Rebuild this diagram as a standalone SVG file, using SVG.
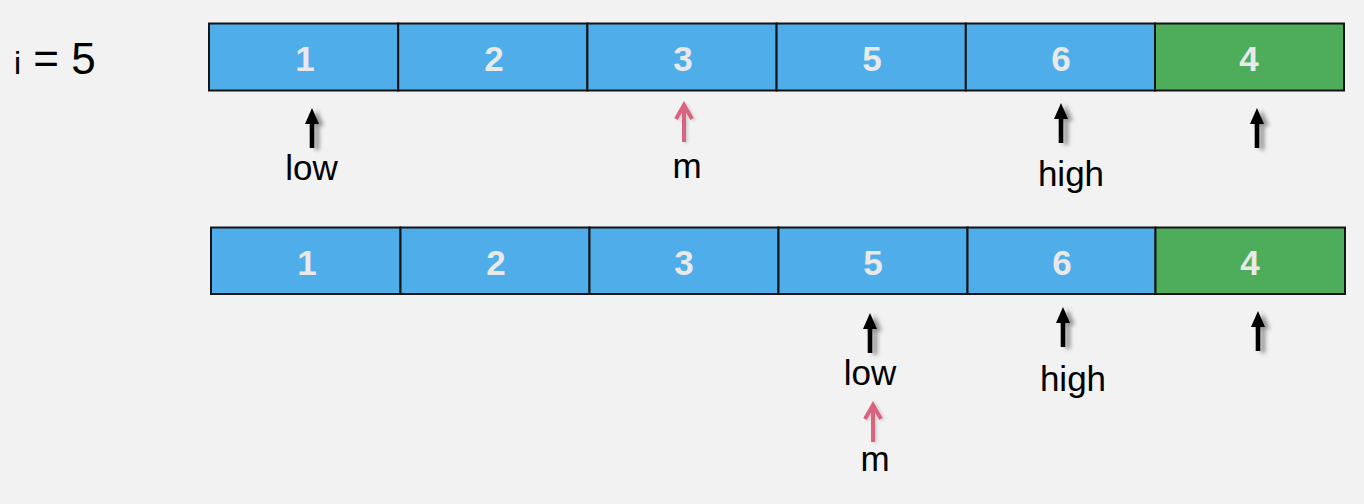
<svg xmlns="http://www.w3.org/2000/svg" width="1364" height="504" viewBox="0 0 1364 504">
  <defs>
    <style>
      .cell { stroke: #151515; stroke-width: 2; }
      .blue { fill: #4FADEA; }
      .green { fill: #4EAD5B; }
      .num { font-family: "Liberation Sans", Arial, sans-serif; font-weight: bold; font-size: 35px; fill: #E9E9E9; text-anchor: middle; }
      .lbl { font-family: "Liberation Sans", Arial, sans-serif; font-size: 35px; fill: #000; text-anchor: middle; }
      .pink { fill: none; stroke: #D9647F; stroke-width: 4; stroke-linecap: butt; stroke-linejoin: miter; }
    </style>
    <filter id="shadow" x="-100%" y="-30%" width="300%" height="160%">
      <feGaussianBlur in="SourceAlpha" stdDeviation="2"/>
      <feOffset dx="5" dy="2" result="b"/>
      <feFlood flood-color="#000" flood-opacity="0.4"/>
      <feComposite in2="b" operator="in" result="s"/>
      <feMerge><feMergeNode in="s"/><feMergeNode in="SourceGraphic"/></feMerge>
    </filter>
    <filter id="shadowLight" x="-100%" y="-30%" width="300%" height="160%">
      <feGaussianBlur in="SourceAlpha" stdDeviation="1.5"/>
      <feOffset dx="2" dy="1" result="b"/>
      <feFlood flood-color="#000" flood-opacity="0.15"/>
      <feComposite in2="b" operator="in" result="s"/>
      <feMerge><feMergeNode in="s"/><feMergeNode in="SourceGraphic"/></feMerge>
    </filter>
    <path id="blackArrow" d="M0,0 L7,16 L2.3,16 L2.3,40 L-2.3,40 L-2.3,16 L-7,16 Z" fill="#000"/>
    <path id="pinkArrow" class="pink" d="M0,39 L0,3 M-8,16 L0,2 L8,16"/>
  </defs>

  <rect x="0" y="0" width="1364" height="504" fill="#F2F2F2"/>

  <text x="14" y="74" font-family="'Liberation Sans', Arial, sans-serif" fill="#000"><tspan font-size="32">i</tspan><tspan font-size="44"> = 5</tspan></text>

  <!-- Top row -->
  <g id="row1">
    <g id="r1c1"><rect class="cell blue" x="209" y="23.5" width="189.2" height="67"/><text class="num" x="305" y="70.5">1</text></g>
    <g id="r1c2"><rect class="cell blue" x="398.2" y="23.5" width="189.2" height="67"/><text class="num" x="494" y="70.5">2</text></g>
    <g id="r1c3"><rect class="cell blue" x="587.4" y="23.5" width="189.2" height="67"/><text class="num" x="683" y="70.5">3</text></g>
    <g id="r1c4"><rect class="cell blue" x="776.6" y="23.5" width="189.2" height="67"/><text class="num" x="872" y="70.5">5</text></g>
    <g id="r1c5"><rect class="cell blue" x="965.8" y="23.5" width="189.2" height="67"/><text class="num" x="1061" y="70.5">6</text></g>
    <g id="r1c6"><rect class="cell green" x="1155" y="23.5" width="189" height="67"/><text class="num" x="1249" y="70.5">4</text></g>
  </g>

  <!-- Bottom row -->
  <g id="row2">
    <g id="r2c1"><rect class="cell blue" x="211" y="227.5" width="189.5" height="66.5"/><text class="num" x="307" y="274.5">1</text></g>
    <g id="r2c2"><rect class="cell blue" x="400.5" y="227.5" width="189" height="66.5"/><text class="num" x="496" y="274.5">2</text></g>
    <g id="r2c3"><rect class="cell blue" x="589.5" y="227.5" width="189" height="66.5"/><text class="num" x="684" y="274.5">3</text></g>
    <g id="r2c4"><rect class="cell blue" x="778.5" y="227.5" width="189" height="66.5"/><text class="num" x="873" y="274.5">5</text></g>
    <g id="r2c5"><rect class="cell blue" x="967.5" y="227.5" width="188" height="66.5"/><text class="num" x="1062" y="274.5">6</text></g>
    <g id="r2c6"><rect class="cell green" x="1155.5" y="227.5" width="189.5" height="66.5"/><text class="num" x="1250" y="274.5">4</text></g>
  </g>

  <!-- Pointers -->
  <g id="connectors">
    <use href="#blackArrow" transform="translate(312,108)" filter="url(#shadow)"/>
    <use href="#pinkArrow" transform="translate(684,103)" filter="url(#shadowLight)"/>
    <use href="#blackArrow" transform="translate(1061,103)" filter="url(#shadow)"/>
    <use href="#blackArrow" transform="translate(1257,108)" filter="url(#shadow)"/>

    <use href="#blackArrow" transform="translate(870,313)" filter="url(#shadow)"/>
    <use href="#blackArrow" transform="translate(1063,307)" filter="url(#shadow)"/>
    <use href="#blackArrow" transform="translate(1258,311)" filter="url(#shadow)"/>
    <use href="#pinkArrow" transform="translate(873,403)" filter="url(#shadowLight)"/>
  </g>

  <g id="labels">
    <text class="lbl" x="311.5" y="180">low</text>
    <text class="lbl" x="687" y="177.5">m</text>
    <text class="lbl" x="1071" y="185.5">high</text>
    <text class="lbl" x="870" y="385">low</text>
    <text class="lbl" x="1073" y="390.5">high</text>
    <text class="lbl" x="875" y="470.5">m</text>
  </g>
</svg>
